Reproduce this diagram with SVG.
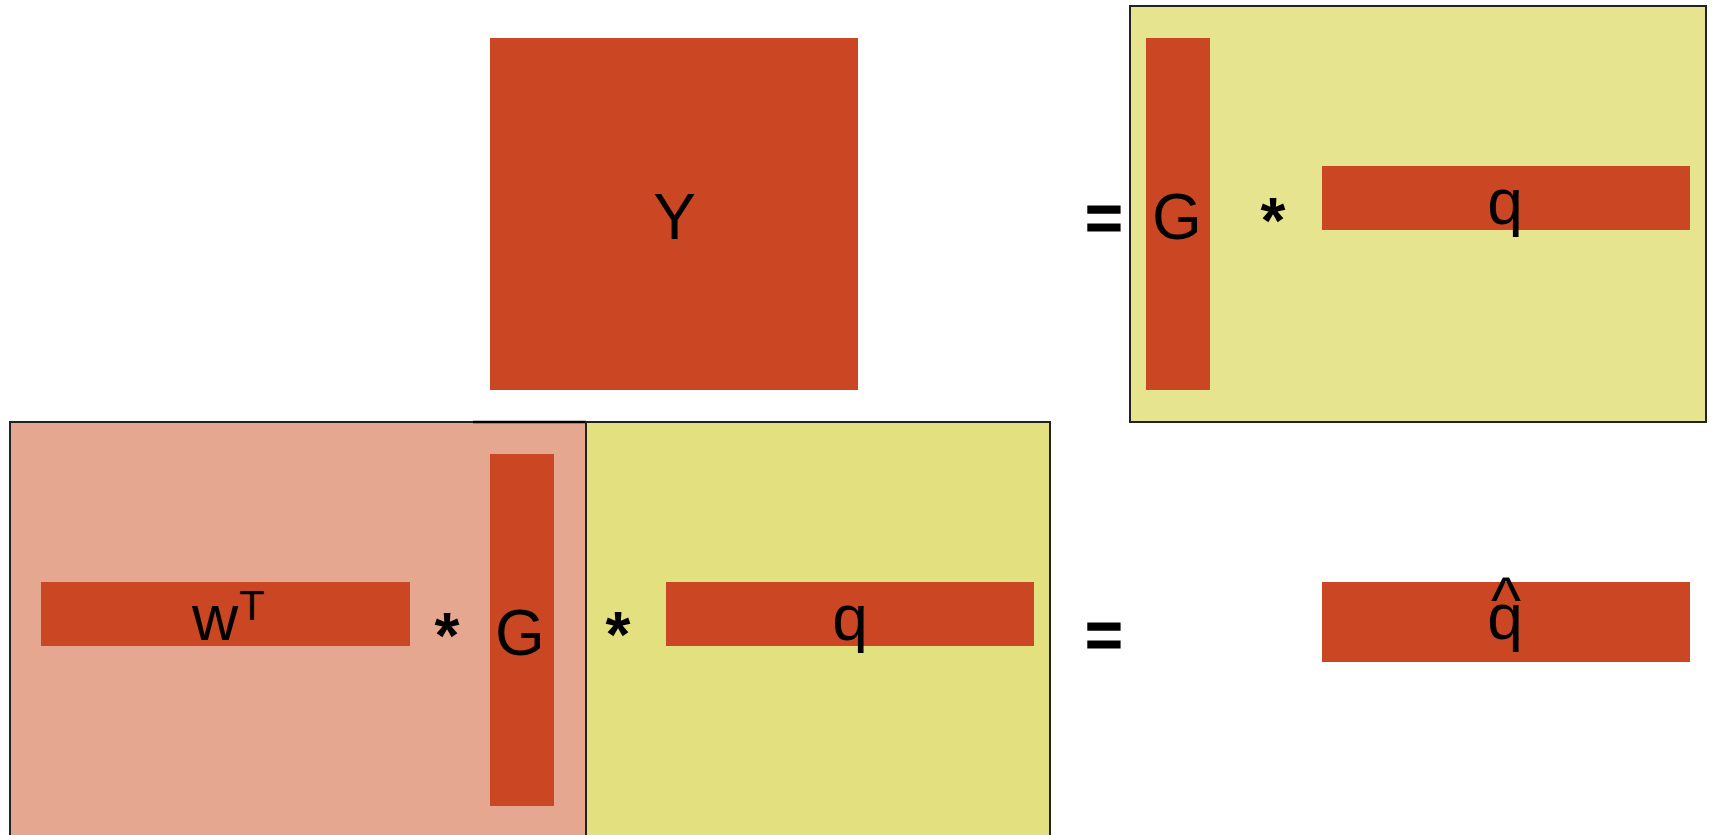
<svg xmlns="http://www.w3.org/2000/svg" width="1713" height="835" viewBox="0 0 1713 835">
<style>
.m{fill:#CB4623}
.t{font-family:"Liberation Sans",Arial,sans-serif;font-size:64px;fill:#000;text-anchor:middle}
.b{font-weight:bold}
.eq{stroke:#000;stroke-width:1.2}
.box{stroke:#222;stroke-width:2}
</style>
<rect width="1713" height="835" fill="#fff"/>
<g id="topbox">
<rect class="box" x="1130" y="6" width="576" height="416" fill="#E6E48F"/>
</g>
<g id="pinkbox">
<rect class="box" x="10" y="422" width="576" height="420" fill="#E5A790"/>
<line x1="473" y1="422" x2="586" y2="422" stroke="#000" stroke-width="2.5"/>
</g>
<g id="yellowbox">
<rect class="box" x="586" y="422" width="464" height="420" fill="#E3E080"/>
</g>
<g id="Y">
<rect class="m" x="490" y="38" width="368" height="352"/>
<text class="t" x="674.5" y="239">Y</text>
</g>
<g id="G-top">
<rect class="m" x="1146" y="38" width="64" height="352"/>
<text class="t" x="1177" y="239">G</text>
</g>
<g id="q-top">
<rect class="m" x="1322" y="166" width="368" height="64"/>
<text class="t" x="1505" y="224">q</text>
</g>
<g id="wT">
<rect class="m" x="41" y="582" width="369" height="64"/>
<text class="t" x="192" y="640" style="text-anchor:start">w</text>
<text class="t" x="239" y="620" style="text-anchor:start;font-size:42px">T</text>
</g>
<g id="G-bottom">
<rect class="m" x="490" y="454" width="64" height="352"/>
<text class="t" x="520" y="655">G</text>
</g>
<g id="q-bottom">
<rect class="m" x="666" y="582" width="368" height="64"/>
<text class="t" x="850" y="640">q</text>
</g>
<g id="qhat">
<rect class="m" x="1322" y="582" width="368" height="80"/>
<text class="t" x="1505" y="639">q</text>
<text class="t" x="1506" y="622">^</text>
</g>
<g id="operators">
<text class="t b eq" x="1104" y="240">=</text>
<text class="t b" x="1273" y="243">*</text>
<text class="t b" x="447" y="658">*</text>
<text class="t b" x="618" y="657">*</text>
<text class="t b eq" x="1104" y="657">=</text>
</g>
<g id="connectors"></g>
</svg>
